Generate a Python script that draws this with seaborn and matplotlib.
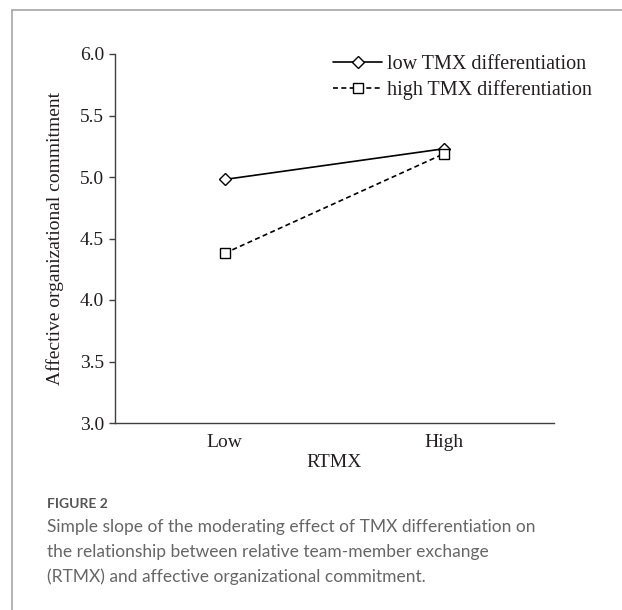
import matplotlib
matplotlib.use("Agg")
import matplotlib.pyplot as plt
from matplotlib.lines import Line2D
import pandas as pd
import seaborn as sns

# data
categories = ["Low", "High"]
low_tmx = [4.98, 5.23]
high_tmx = [4.38, 5.19]
series_names = ["low TMX differentiation", "high TMX differentiation"]
y_ticks = [3.0, 3.5, 4.0, 4.5, 5.0, 5.5, 6.0]

caption_title = "FIGURE 2"
caption_lines = [
    "Simple slope of the moderating effect of TMX differentiation on",
    "the relationship between relative team-member exchange",
    "(RTMX) and affective organizational commitment.",
]

sns.set_theme(style="white")
plt.rcParams["font.family"] = ["Liberation Serif", "DejaVu Serif"]

W, H = 622, 610
fig = plt.figure(figsize=(W / 100, H / 100), dpi=100)
ax = fig.add_axes([115 / W, 1 - 423 / H, (554 - 115) / W, (423 - 54) / H])

ink = "#231f20"
fs = 14
leg_fs = 14.5

df = pd.DataFrame({"RTMX": categories, "low": low_tmx, "high": high_tmx})

sns.lineplot(data=df, x="RTMX", y="low", ax=ax, color="black", linewidth=1.2,
             marker="D", markersize=6, markerfacecolor="white",
             markeredgecolor="black", markeredgewidth=1.0,
             label=series_names[0], sort=False)
sns.lineplot(data=df, x="RTMX", y="high", ax=ax, color="black", linewidth=1.2,
             linestyle=(0, (3, 2)), marker="s", markersize=7,
             markerfacecolor="white", markeredgecolor="black",
             markeredgewidth=1.0, label=series_names[1], sort=False)

ax.set_xlim(-0.5, 1.5)
ax.set_ylim(3.0, 6.0)
ax.set_yticks(y_ticks)
ax.set_yticklabels([f"{v:.1f}" for v in y_ticks], fontsize=fs, color=ink)
ax.set_xticks([0, 1])
ax.set_xticklabels(categories, fontsize=fs, color=ink)
ax.set_xticks([0.5, 1.5], minor=True)
ax.tick_params(axis="x", which="major", length=0, pad=8)
ax.tick_params(axis="x", which="minor", direction="in", length=4.5,
               width=1.0, color="#404040")
ax.tick_params(axis="y", which="major", direction="out", length=4,
               width=1.0, color="#404040", pad=4, left=True)

for side in ["top", "right"]:
    ax.spines[side].set_visible(False)
for side in ["left", "bottom"]:
    ax.spines[side].set_color("#404040")
    ax.spines[side].set_linewidth(1.0)

ax.set_xlabel("RTMX", fontsize=fs, color=ink, labelpad=2)
ax.set_ylabel("Affective organizational commitment", fontsize=fs,
              color=ink, labelpad=11)
ax.grid(False)

leg = ax.legend(loc="upper left", bbox_to_anchor=(333 / W, 1 - 55 / H),
                bbox_transform=fig.transFigure, frameon=False, fontsize=leg_fs,
                handlelength=2.45, handletextpad=0.25, labelspacing=0.3,
                borderpad=0, borderaxespad=0)
for t in leg.get_texts():
    t.set_color(ink)

# outer frame of the figure panel
frame = "#a6a6a6"
fig.add_artist(Line2D([12 / W, 1.0], [1 - 10 / H, 1 - 10 / H], color=frame,
                      linewidth=1.2, transform=fig.transFigure))
fig.add_artist(Line2D([12 / W, 12 / W], [0.0, 1 - 10 / H], color=frame,
                      linewidth=1.2, transform=fig.transFigure))

# caption
cap_font = ["Lato", "DejaVu Sans"]
fig.text(47 / W, 1 - 508 / H, caption_title, fontsize=10, color="#555555",
         family=cap_font, fontweight="bold", va="baseline")
for i, line in enumerate(caption_lines):
    fig.text(47 / W, 1 - (532 + 25 * i) / H, line, fontsize=12.5,
             color="#666666", family=cap_font, va="baseline")

fig.savefig("out.png", dpi=100, facecolor="white")
